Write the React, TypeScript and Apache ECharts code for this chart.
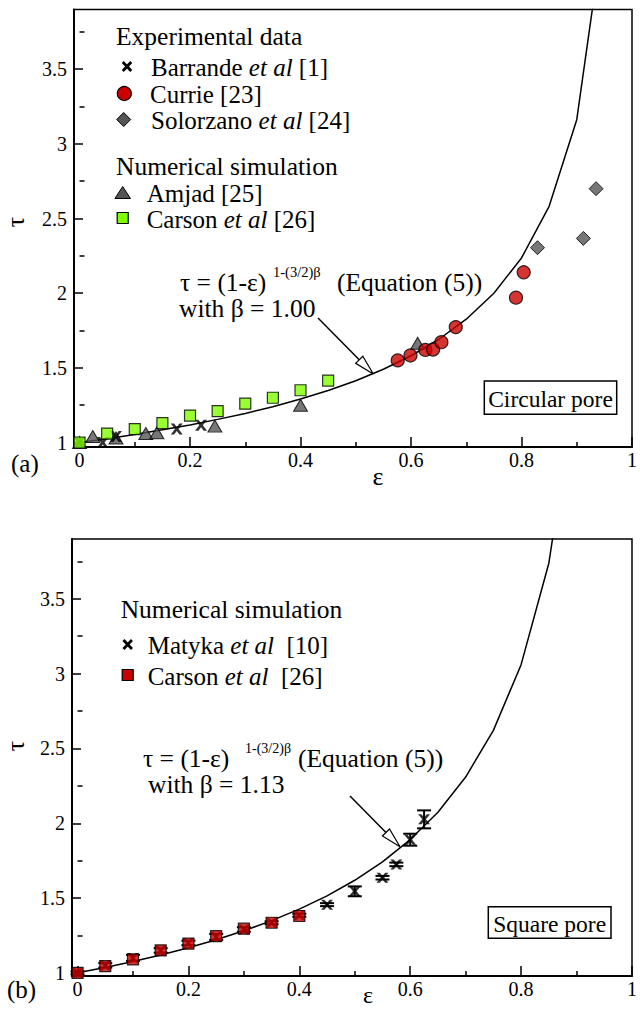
import React, { useEffect, useRef } from "react";
import * as echarts from "echarts";

const FONT = '"Liberation Serif", "Times New Roman", serif';
const FS = 25.5;
const LFS = 25;
const LH = 21;

const curveEps = [0, 0.05, 0.1, 0.15, 0.2, 0.25, 0.3, 0.35, 0.4, 0.45, 0.5, 0.55, 0.6, 0.65, 0.7, 0.75, 0.8, 0.85, 0.9, 0.95];
const curveTauA = [1, 1.026, 1.054, 1.085, 1.118, 1.155, 1.195, 1.24, 1.291, 1.348, 1.414, 1.491, 1.581, 1.69, 1.826, 2.0, 2.236, 2.582, 3.162, 4.472];
const curveTauB = [1, 1.036, 1.076, 1.12, 1.168, 1.221, 1.281, 1.349, 1.426, 1.515, 1.619, 1.742, 1.891, 2.074, 2.309, 2.621, 3.06, 3.738, 4.954, 8.02];

// Panel (a)
const barrandeEps = [0.0, 0.042, 0.066, 0.176, 0.22];
const barrandeTau = [1.0, 1.0, 1.04, 1.09, 1.115];
const currieEps = [0.576, 0.599, 0.626, 0.64, 0.655, 0.681, 0.79, 0.804];
const currieTau = [1.55, 1.583, 1.62, 1.623, 1.672, 1.773, 1.97, 2.14];
const solorzanoEps = [0.829, 0.912, 0.935];
const solorzanoTau = [2.305, 2.367, 2.7];
const amjadEps = [0.0, 0.024, 0.066, 0.12, 0.14, 0.245, 0.4, 0.612];
const amjadTau = [1.0, 1.04, 1.03, 1.06, 1.065, 1.11, 1.25, 1.665];
const carsonAEps = [0, 0.05, 0.1, 0.15, 0.2, 0.25, 0.3, 0.35, 0.4, 0.45];
const carsonATau = [1.0, 1.06, 1.09, 1.13, 1.18, 1.21, 1.26, 1.3, 1.35, 1.415];

// Panel (b)
const matykaEps = [0, 0.05, 0.1, 0.15, 0.2, 0.25, 0.3, 0.35, 0.4, 0.45, 0.5, 0.55, 0.575, 0.6, 0.625];
const matykaTau = [1.0, 1.05, 1.1, 1.15, 1.2, 1.24, 1.29, 1.335, 1.385, 1.456, 1.545, 1.636, 1.725, 1.89, 2.026];
const matykaErr = [0.01, 0.015, 0.02, 0.015, 0.015, 0.02, 0.015, 0.01, 0.01, 0.01, 0.033, 0.012, 0.012, 0.04, 0.06];
const carsonBEps = [0, 0.05, 0.1, 0.15, 0.2, 0.25, 0.3, 0.35, 0.4];
const carsonBTau = [1.0, 1.045, 1.09, 1.15, 1.195, 1.245, 1.295, 1.335, 1.38];

// Ticks
const xMajor = [0, 0.2, 0.4, 0.6, 0.8, 1];
const xMinor = [0.1, 0.3, 0.5, 0.7, 0.9];
const yMajor = [1, 1.5, 2, 2.5, 3, 3.5];
const yMinor = [1.25, 1.75, 2.25, 2.75, 3.25, 3.75];

const XPATH = "path://M0,0L2.8,0L5,3.2L7.2,0L10,0L6.5,5L10,10L7.2,10L5,6.8L2.8,10L0,10L3.5,5Z";

const zip = (a: number[], b: number[]) => a.map((v, i) => [v, b[i]]);

function xAxes(grid: number, min: number, max: number) {
  return [
    {
      type: "value", gridIndex: grid, min, max, position: "bottom",
      axisLine: { show: true, onZero: false, lineStyle: { color: "#000", width: 2 } },
      axisTick: { show: true, inside: true, length: 10, customValues: xMajor, lineStyle: { color: "#000", width: 1.5 } },
      axisLabel: { show: true, customValues: xMajor, margin: 3, fontSize: 20, fontFamily: FONT, color: "#000", formatter: (v: number) => String(v) },
      splitLine: { show: false },
    },
    {
      type: "value", gridIndex: grid, min, max, position: "bottom",
      axisLine: { show: false },
      axisTick: { show: true, inside: true, length: 5, customValues: xMinor, lineStyle: { color: "#000", width: 1.5 } },
      axisLabel: { show: false },
      splitLine: { show: false },
    },
  ];
}

function yAxes(grid: number, min: number, max: number) {
  return [
    {
      type: "value", gridIndex: grid, min, max, position: "left",
      axisLine: { show: true, onZero: false, lineStyle: { color: "#000", width: 2 } },
      axisTick: { show: true, inside: true, length: 9, customValues: yMajor, lineStyle: { color: "#000", width: 1.5 } },
      axisLabel: { show: true, customValues: yMajor, margin: 7, fontSize: 20, fontFamily: FONT, color: "#000", formatter: (v: number) => String(v) },
      splitLine: { show: false },
    },
    {
      type: "value", gridIndex: grid, min, max, position: "left",
      axisLine: { show: false },
      axisTick: { show: true, inside: true, length: 5, customValues: yMinor, lineStyle: { color: "#000", width: 1.5 } },
      axisLabel: { show: false },
      splitLine: { show: false },
    },
  ];
}

function txt(x: number, y: number, text: string, size = FS, extra: any = {}) {
  return {
    type: "text", x, y, z: 100,
    style: { text, fontSize: size, fontFamily: FONT, fill: "#000", align: "left", verticalAlign: "middle", lineHeight: Math.min(LH, size), ...extra },
  };
}

function rich(x: number, y: number, text: string, size = LFS) {
  return {
    type: "text", x, y, z: 100,
    style: {
      text, fontSize: size, fontFamily: FONT, fill: "#000", align: "left", verticalAlign: "middle", lineHeight: LH,
      rich: {
        n: { fontSize: size, fontFamily: FONT, fill: "#000", color: "#000", lineHeight: LH },
        i: { fontSize: size, fontFamily: FONT, fontStyle: "italic", fill: "#000", color: "#000", lineHeight: LH },
      },
    },
  };
}

function xMark(cx: number, cy: number, w: number, h: number) {
  return [
    { type: "line", z: 100, shape: { x1: cx - w / 2, y1: cy - h / 2, x2: cx + w / 2, y2: cy + h / 2 }, style: { stroke: "#000", lineWidth: 2.8 } },
    { type: "line", z: 100, shape: { x1: cx + w / 2, y1: cy - h / 2, x2: cx - w / 2, y2: cy + h / 2 }, style: { stroke: "#000", lineWidth: 2.8 } },
  ];
}

function arrow(x1: number, y1: number, x2: number, y2: number) {
  const dx = x2 - x1, dy = y2 - y1;
  const L = Math.hypot(dx, dy);
  const ux = dx / L, uy = dy / L;
  const hl = 20, hw = 5;
  const bx = x2 - ux * hl, by = y2 - uy * hl;
  const px = -uy * hw, py = ux * hw;
  return [
    { type: "line", z: 100, shape: { x1, y1, x2: bx, y2: by }, style: { stroke: "#000", lineWidth: 1.5 } },
    {
      type: "polygon", z: 100,
      shape: { points: [[x2, y2], [bx + px, by + py], [bx - px, by - py]] },
      style: { fill: "#fff", stroke: "#000", lineWidth: 1.2 },
    },
  ];
}

function boxLabel(x1: number, y1: number, x2: number, y2: number, text: string) {
  return [
    { type: "rect", z: 100, shape: { x: x1, y: y1, width: x2 - x1, height: y2 - y1 }, style: { fill: "#fff", stroke: "#000", lineWidth: 1.5 } },
    txt((x1 + x2) / 2, (y1 + y2) / 2 + 1, text, 23.5, { align: "center" }),
  ];
}

export default function App() {
  const ref = useRef<HTMLDivElement>(null);

  useEffect(() => {
    if (!ref.current) return;
    const chart = echarts.init(ref.current, null, { renderer: "svg" });

    const matykaBars = matykaEps.map((e, i) => [e, matykaTau[i] - matykaErr[i], matykaTau[i] + matykaErr[i]]);

    const graphic: any[] = [
      // Panel (a) legend
      txt(116, 36, "Experimental data"),
      ...xMark(127, 66.5, 8.5, 9),
      rich(151, 67, "{n|Barrande }{i|et al}{n| [1]}"),
      { type: "circle", z: 100, shape: { cx: 124.3, cy: 93.5, r: 7 }, style: { fill: "#cc0000", stroke: "#000", lineWidth: 1.2 } },
      txt(150, 94, "Currie [23]", LFS),
      { type: "polygon", z: 100, shape: { points: [[123.7, 112.5], [130.7, 119.5], [123.7, 126.5], [116.7, 119.5]] }, style: { fill: "#555", stroke: "#000", lineWidth: 1 } },
      rich(151, 120.5, "{n|Solorzano }{i|et al}{n| [24]}"),
      txt(116, 166, "Numerical simulation"),
      { type: "polygon", z: 100, shape: { points: [[122.7, 186.5], [130.5, 198.5], [114.9, 198.5]] }, style: { fill: "#555", stroke: "#000", lineWidth: 1 } },
      txt(146.7, 193, "Amjad [25]", LFS),
      { type: "rect", z: 100, shape: { x: 117.2, y: 212.5, width: 11, height: 11 }, style: { fill: "#80ff00", stroke: "#000", lineWidth: 1.2 } },
      rich(146.7, 219, "{n|Carson }{i|et al}{n| [26]}"),

      // Panel (a) equation annotation
      txt(180, 282, "τ = (1-ε)"),
      txt(273, 271.5, "1-(3/2)β", 14.5),
      txt(337, 282, "(Equation (5))"),
      txt(179, 308.5, "with β = 1.00"),
      ...arrow(318, 318, 373.3, 374),
      ...boxLabel(484.3, 381, 616.7, 414.3, "Circular pore"),

      // Panel (a) axis names
      txt(378, 476, "ε", 26, { align: "center" }),
      { type: "text", x: 15, y: 222, rotation: Math.PI / 2, z: 100, style: { text: "τ", fontSize: 26, fontFamily: FONT, fill: "#000", align: "center", verticalAlign: "middle" } },
      txt(11, 463.5, "(a)", 25),

      // Panel (b) legend
      txt(120.7, 609.5, "Numerical simulation"),
      ...xMark(127.7, 644.5, 8.5, 9),
      rich(147.7, 645, "{n|Matyka }{i|et al}{n|  [10]}"),
      { type: "rect", z: 100, shape: { x: 122.2, y: 669.5, width: 11, height: 11 }, style: { fill: "#cc0000", stroke: "#000", lineWidth: 1.2 } },
      rich(147.7, 676, "{n|Carson }{i|et al}{n|  [26]}"),

      // Panel (b) equation annotation
      txt(143, 758, "τ = (1-ε)"),
      txt(245, 748, "1-(3/2)β", 14),
      txt(298, 758, "(Equation (5))"),
      txt(148, 784.5, "with β = 1.13"),
      ...arrow(350, 796, 400, 846.7),
      ...boxLabel(488.3, 906.7, 611, 938.3, "Square pore"),

      // Panel (b) axis names
      txt(368, 995, "ε", 24, { align: "center" }),
      { type: "text", x: 15, y: 746, rotation: Math.PI / 2, z: 100, style: { text: "τ", fontSize: 26, fontFamily: FONT, fill: "#000", align: "center", verticalAlign: "middle" } },
      txt(7, 989.5, "(b)", 25),
    ];

    const border = { itemStyle: { borderColor: "#000", borderWidth: 1.2 } };

    chart.setOption({
      animation: false,
      backgroundColor: "#fff",
      grid: [
        { left: 74, top: 9.5, width: 567.6, height: 437.5, show: true, borderColor: "#000", borderWidth: 1.5, backgroundColor: "transparent" },
        { left: 72, top: 539, width: 566, height: 437, show: true, borderColor: "#000", borderWidth: 1.5, backgroundColor: "transparent" },
      ],
      xAxis: [...xAxes(0, -0.01, 1), ...xAxes(1, -0.01, 1)],
      yAxis: [...yAxes(0, 0.97, 3.9), ...yAxes(1, 0.979, 3.9)],
      graphic,
      series: [
        {
          name: "Equation (5) β=1.00", type: "line", xAxisIndex: 0, yAxisIndex: 0, z: 2,
          data: zip(curveEps, curveTauA), showSymbol: false, clip: true,
          lineStyle: { color: "#000", width: 1.5 },
        },
        {
          name: "Amjad [25]", type: "scatter", xAxisIndex: 0, yAxisIndex: 0, z: 3,
          data: zip(amjadEps, amjadTau), symbol: "triangle", symbolSize: [14, 12],
          itemStyle: { color: "#555", borderColor: "#000", borderWidth: 1 },
        },
        {
          name: "Barrande et al [1]", type: "scatter", xAxisIndex: 0, yAxisIndex: 0, z: 4,
          data: zip(barrandeEps, barrandeTau), symbol: XPATH, symbolSize: [12, 11],
          itemStyle: { color: "#000" },
        },
        {
          name: "Carson et al [26]", type: "scatter", xAxisIndex: 0, yAxisIndex: 0, z: 5,
          data: zip(carsonAEps, carsonATau), symbol: "rect", symbolSize: 11,
          itemStyle: { color: "#80ff00", ...border.itemStyle },
        },
        {
          name: "Currie [23]", type: "scatter", xAxisIndex: 0, yAxisIndex: 0, z: 6,
          data: zip(currieEps, currieTau), symbol: "circle", symbolSize: 13,
          itemStyle: { color: "#cc0000", ...border.itemStyle },
        },
        {
          name: "Solorzano et al [24]", type: "scatter", xAxisIndex: 0, yAxisIndex: 0, z: 6,
          data: zip(solorzanoEps, solorzanoTau), symbol: "diamond", symbolSize: 14,
          itemStyle: { color: "#555", borderColor: "#000", borderWidth: 1 },
        },
        {
          name: "Equation (5) β=1.13", type: "line", xAxisIndex: 2, yAxisIndex: 2, z: 2,
          data: zip(curveEps, curveTauB), showSymbol: false, clip: true,
          lineStyle: { color: "#000", width: 1.5 },
        },
        {
          name: "Matyka error", type: "custom", xAxisIndex: 2, yAxisIndex: 2, z: 3,
          data: matykaBars, encode: { x: 0, y: [1, 2] },
          renderItem: (params: any, api: any) => {
            const x = api.value(0);
            const lo = api.coord([x, api.value(1)]);
            const hi = api.coord([x, api.value(2)]);
            const cw = 7;
            const st = { stroke: "#000", lineWidth: 2 };
            return {
              type: "group",
              children: [
                { type: "line", shape: { x1: lo[0], y1: lo[1], x2: hi[0], y2: hi[1] }, style: st },
                { type: "line", shape: { x1: lo[0] - cw, y1: lo[1], x2: lo[0] + cw, y2: lo[1] }, style: st },
                { type: "line", shape: { x1: hi[0] - cw, y1: hi[1], x2: hi[0] + cw, y2: hi[1] }, style: st },
              ],
            };
          },
        },
        {
          name: "Matyka et al [10]", type: "scatter", xAxisIndex: 2, yAxisIndex: 2, z: 4,
          data: zip(matykaEps, matykaTau), symbol: XPATH, symbolSize: [12, 10],
          itemStyle: { color: "#000" },
        },
        {
          name: "Carson et al [26] (b)", type: "scatter", xAxisIndex: 2, yAxisIndex: 2, z: 5,
          data: zip(carsonBEps, carsonBTau), symbol: "rect", symbolSize: 11,
          itemStyle: { color: "#cc0000", ...border.itemStyle },
        },
      ],
    });

    return () => chart.dispose();
  }, []);

  return <div ref={ref} style={{ position: "absolute", left: 0, top: 0, width: 640, height: 1010 }} />;
}
